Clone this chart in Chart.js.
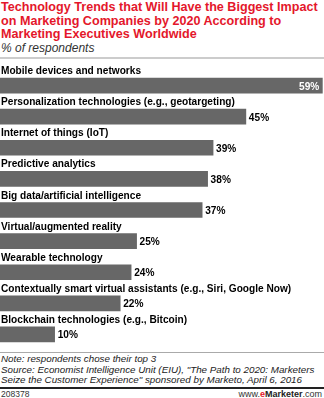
<!DOCTYPE html>
<html lang="en">
  <head>
    <meta charset="UTF-8" />
    <title>Technology Trends</title>
    <script src="https://cdn.jsdelivr.net/npm/chart.js@4"></script>
    <style>
      body { margin: 0; width: 324px; height: 398px; overflow: hidden; background: #fff; position: relative; font-family: "Liberation Sans", Arial, sans-serif; }
      .title { position: absolute; left: 1px; top: 1px; white-space: nowrap; color: #e4172b; font: bold 12.6px/13.5px "Liberation Sans", sans-serif; }
      .sub { position: absolute; left: 1px; top: 41px; font: italic 12px "Liberation Sans", sans-serif; color: #333; }
      .rule1 { position: absolute; left: 0; top: 57px; width: 324px; height: 2px; background: #ccc; }
      .wrap { position: absolute; left: 0; top: 60px; width: 324px; height: 290px; }
      .rule2 { position: absolute; left: 0; top: 352px; width: 324px; height: 1px; background: #aaa; }
      .note { position: absolute; left: 1px; top: 354px; white-space: nowrap; font: italic 9.8px/10.5px "Liberation Sans", sans-serif; color: #222; }
      .rule3 { position: absolute; left: 0; top: 387px; width: 324px; height: 2px; background: #222; }
      .id { position: absolute; left: 1px; top: 389px; font: 8.5px "Liberation Sans", sans-serif; color: #333; }
      .site { position: absolute; right: 2px; top: 389px; font: 9px "Liberation Sans", sans-serif; color: #333; }
      .site b { color: #222; } .site b span { color: #e4172b; }
    </style>
  </head>
  <body>
    <div class="title">Technology Trends that Will Have the Biggest Impact<br />on Marketing Companies by 2020 According to<br />Marketing Executives Worldwide</div>
    <div class="sub">% of respondents</div>
    <div class="rule1"></div>
    <div class="wrap"><canvas id="chart"></canvas></div>
    <div class="rule2"></div>
    <div class="note">Note: respondents chose their top 3<br />Source: Economist Intelligence Unit (EIU), "The Path to 2020: Marketers<br />Seize the Customer Experience" sponsored by Marketo, April 6, 2016</div>
    <div class="rule3"></div>
    <div class="id">208378</div>
    <div class="site">www.<b><span>e</span>Marketer</b>.com</div>
  </body>
  <script>
    const categories = [
      "Mobile devices and networks",
      "Personalization technologies (e.g., geotargeting)",
      "Internet of things (IoT)",
      "Predictive analytics",
      "Big data/artificial intelligence",
      "Virtual/augmented reality",
      "Wearable technology",
      "Contextually smart virtual assistants (e.g., Siri, Google Now)",
      "Blockchain technologies (e.g., Bitcoin)",
    ];
    const values = [59, 45, 39, 38, 37, 25, 24, 22, 10];

    const labelFont = 'bold 11px "Liberation Sans", sans-serif';
    const squeeze = 0.92; // labels in the original are a bit narrower

    function drawText(ctx, text, x, y, align) {
      ctx.save();
      ctx.translate(x, y);
      ctx.scale(squeeze, 1);
      ctx.textAlign = align;
      ctx.fillText(text, 0, 0);
      ctx.restore();
    }

    // category names above bars, values at bar ends
    const barLabels = {
      id: "barLabels",
      afterDatasetsDraw(chart) {
        const ctx = chart.ctx;
        const meta = chart.getDatasetMeta(0);
        ctx.save();
        ctx.font = labelFont;
        meta.data.forEach((bar, i) => {
          const top = bar.y - bar.height / 2;
          ctx.fillStyle = "#000";
          ctx.textBaseline = "alphabetic";
          drawText(ctx, categories[i], 1, top - 4, "left");
          ctx.textBaseline = "middle";
          if (i === 0) {
            ctx.fillStyle = "#fff";
            drawText(ctx, values[i] + "%", bar.x - 3, bar.y + 1, "right");
          } else {
            ctx.fillStyle = "#000";
            drawText(ctx, values[i] + "%", bar.x + 3, bar.y + 1, "left");
          }
        });
        ctx.restore();
      },
    };

    new Chart(document.getElementById("chart"), {
      type: "bar",
      data: {
        labels: categories,
        datasets: [{ data: values, backgroundColor: "#676767", barThickness: 15 }],
      },
      options: {
        indexAxis: "y",
        responsive: true,
        maintainAspectRatio: false,
        animation: false,
        layout: { padding: { top: 10, bottom: 0, left: 0, right: 0 } },
        plugins: { legend: { display: false }, tooltip: { enabled: false } },
        scales: {
          x: { display: false, min: 0, max: 59.3 },
          y: { display: false },
        },
      },
      plugins: [barLabels],
    });
  </script>
</html>
